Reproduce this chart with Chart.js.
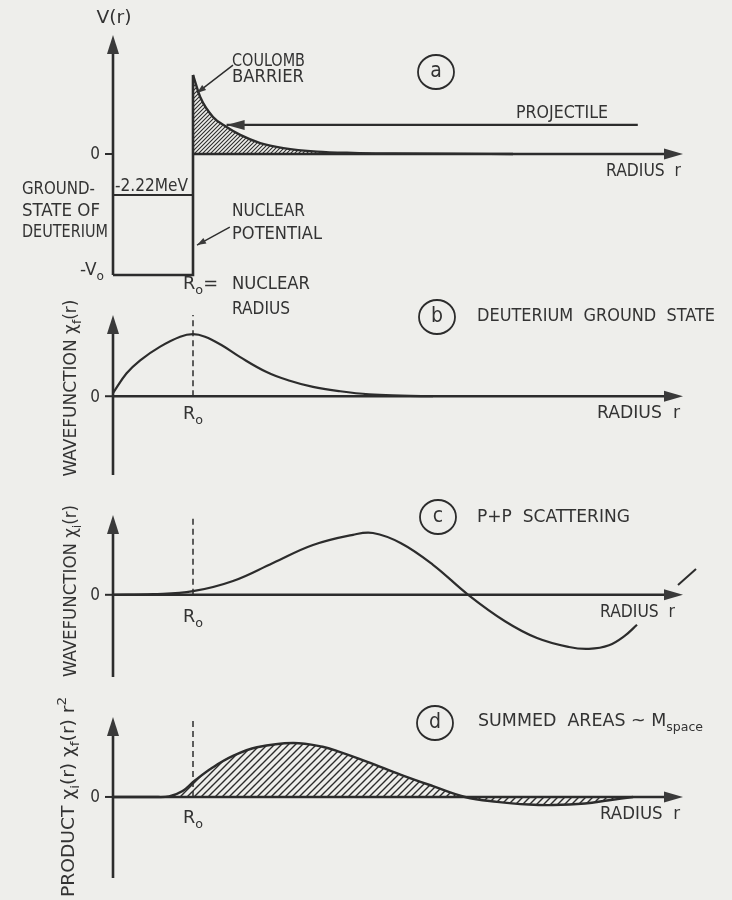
<!DOCTYPE html>
<html>
<head>
<meta charset="utf-8">
<script src="https://cdn.jsdelivr.net/npm/chart.js@4.4.0/dist/chart.umd.min.js"></script>
<style>
html, body { margin: 0; padding: 0; background: #eeeeeb; }
#page { position: relative; width: 732px; height: 900px; overflow: hidden; }
canvas { position: absolute; left: 0; }
</style>
</head>
<body>
<div id="page">
  <canvas id="chartA" width="732" height="330" style="top:0px"></canvas>
  <canvas id="chartB" width="732" height="200" style="top:290px"></canvas>
  <canvas id="chartC" width="732" height="200" style="top:490px"></canvas>
  <canvas id="chartD" width="732" height="210" style="top:690px"></canvas>
</div>
<script>
// radius r in units of the nuclear radius R0 (R0 = 1)
// (a) potential, schematic MeV
const wellR = [0, 1, 1]
const wellV = [-6.54, -6.54, 4.27]
const groundR = [0, 1]
const groundV = [-2.22, -2.22]
const coulombR = [1, 1.09, 1.25, 1.42, 1.59, 1.84, 2.13, 2.55, 3.0, 3.5, 4.2, 5.0]
const coulombV = [4.27, 3.08, 2.0, 1.46, 1.03, 0.59, 0.32, 0.13, 0.06, 0.03, 0.01, 0]
const projectileR = [1.42, 6.56]
const projectileV = [1.57, 1.57]

// (b) deuterium ground state wavefunction chi_f
const chiFR = [0, 0.17, 0.34, 0.59, 0.84, 1.0, 1.15, 1.35, 1.59, 1.92, 2.21, 2.5, 2.84, 3.2, 3.6, 4.0]
const chiF = [0.05, 0.37, 0.58, 0.8, 0.96, 1.0, 0.96, 0.83, 0.63, 0.39, 0.25, 0.15, 0.08, 0.03, 0.01, 0]

// (c) p+p scattering wavefunction chi_i
const chiIR = [0, 0.5, 1.0, 1.5, 2.0, 2.5, 3.0, 3.25, 3.6, 4.0, 4.44, 4.9, 5.3, 5.7, 5.95, 6.2, 6.4, 6.55]
const chiI = [0, 0.01, 0.06, 0.23, 0.53, 0.83, 1.0, 1.03, 0.86, 0.5, 0, -0.44, -0.72, -0.87, -0.9, -0.84, -0.68, -0.5]

// (d) product chi_i chi_f r^2
const prodR = [0, 0.5, 0.7, 0.87, 1.02, 1.25, 1.5, 1.8, 2.25, 2.62, 2.84, 3.18, 3.6, 4.0, 4.4, 4.8, 5.2, 5.5, 5.9, 6.2, 6.5]
const prod = [0, 0, 0.01, 0.11, 0.3, 0.55, 0.76, 0.92, 1.0, 0.93, 0.83, 0.65, 0.41, 0.2, 0, -0.09, -0.14, -0.15, -0.12, -0.06, 0]

const R0 = [1, 1]
const R_MAX = 7.125

const ink = '#2c2c2c'
const textInk = '#333333'
const FONT = '"DejaVu Sans Condensed", "DejaVu Sans", sans-serif'

const line = (xs, ys) => xs.map((x, i) => ({ x, y: ys[i] }))

function hatch(gap, lw) {
  const c = document.createElement('canvas')
  c.width = gap; c.height = gap
  const g = c.getContext('2d')
  g.strokeStyle = ink
  g.lineWidth = lw
  g.beginPath()
  g.moveTo(0, gap); g.lineTo(gap, 0)
  g.moveTo(-1, 1); g.lineTo(1, -1)
  g.moveTo(gap - 1, gap + 1); g.lineTo(gap + 1, gap - 1)
  g.stroke()
  return g.createPattern(c, 'repeat')
}

// mini markup: _{sub} ^{sup}
function parse(str) {
  const out = []
  const re = /([_^])\{([^}]*)\}/g
  let last = 0, m
  while ((m = re.exec(str))) {
    if (m.index > last) out.push({ t: str.slice(last, m.index) })
    out.push({ t: m[2], s: m[1] === '_' ? 'sub' : 'sup' })
    last = re.lastIndex
  }
  if (last < str.length) out.push({ t: str.slice(last) })
  return out
}

function rich(ctx, str, x, y, size, width, align, rot) {
  const parts = parse(str)
  ctx.save()
  ctx.translate(x, y)
  if (rot) ctx.rotate(rot)
  let total = 0
  for (const p of parts) {
    p.size = p.s ? size * 0.72 : size
    ctx.font = p.size + 'px ' + FONT
    p.w = ctx.measureText(p.t).width
    total += p.w
  }
  if (width) ctx.scale(width / total, 1)
  let cx = align === 'center' ? -total / 2 : align === 'right' ? -total : 0
  ctx.fillStyle = textInk
  ctx.textBaseline = 'middle'
  ctx.textAlign = 'left'
  for (const p of parts) {
    ctx.font = p.size + 'px ' + FONT
    const dy = p.s === 'sub' ? size * 0.32 : p.s === 'sup' ? -size * 0.42 : 0
    ctx.fillText(p.t, cx, dy)
    cx += p.w
  }
  ctx.restore()
}

function arrow(ctx, x, y, ang, len, half) {
  ctx.save()
  ctx.translate(x, y)
  ctx.rotate(ang)
  ctx.beginPath()
  ctx.moveTo(0, 0)
  ctx.lineTo(-len, -half)
  ctx.lineTo(-len, half)
  ctx.closePath()
  ctx.fillStyle = '#3a3a3a'
  ctx.fill()
  ctx.restore()
}

function seg(ctx, x1, y1, x2, y2) {
  ctx.beginPath()
  ctx.moveTo(x1, y1)
  ctx.lineTo(x2, y2)
  ctx.stroke()
}

const curveStyle = { showLine: true, pointRadius: 0, borderColor: ink, clip: false, fill: false }
const dashStyle = { ...curveStyle, borderWidth: 1.5, borderDash: [6, 4] }

const panels = [
  {
    id: 'chartA', top: 0, areaTop: 35, areaBottom: 275, yMin: -6.54, yMax: 6.43, axisFrom: 1,
    datasets: [
      { ...curveStyle, data: line(wellR, wellV), borderWidth: 2.6, tension: 0 },
      { ...curveStyle, data: line(groundR, groundV), borderWidth: 2 },
      { ...curveStyle, data: line(coulombR, coulombV), borderWidth: 2.4, cubicInterpolationMode: 'monotone',
        fill: 'origin', backgroundColor: hatch(4, 1.1) },
      { ...curveStyle, data: line(projectileR, projectileV), borderWidth: 2.2 }
    ],
    leftArrowOn: 3,
    leaders: [[1.5, 4.8, 1.05, 3.3], [1.46, -3.95, 1.05, -4.92]],
    circle: [436, 72, 'a'],
    labels: [
      ['V(r)', 114, 19, 35, 'center'],
      ['GROUND-', 22, 190, 73], ['STATE OF', 22, 212, 78], ['DEUTERIUM', 22, 233, 86],
      ['-2.22MeV', 115, 187, 73],
      ['-V_{o}', 104, 271, 24, 'right'],
      ['COULOMB', 232, 62, 73], ['BARRIER', 232, 78, 72],
      ['NUCLEAR', 232, 212, 73], ['POTENTIAL', 232, 235, 90],
      ['R_{o}=', 183, 285, 35], ['NUCLEAR', 232, 285, 78], ['RADIUS', 232, 310, 58],
      ['PROJECTILE', 516, 114, 92],
      ['RADIUS  r', 606, 172, 75]
    ]
  },
  {
    id: 'chartB', top: 290, areaTop: 315, areaBottom: 475, yMin: -1.27, yMax: 1.31, axisFrom: 0,
    datasets: [
      { ...curveStyle, data: line(chiFR, chiF), borderWidth: 2.2, tension: 0.4 },
      { ...dashStyle, data: line(R0, [0, 1.31]) }
    ],
    circle: [437, 317, 'b'],
    labels: [
      ['DEUTERIUM  GROUND  STATE', 477, 317, 238],
      ['R_{o}', 193, 415, 20, 'center'],
      ['RADIUS  r', 597, 414, 83],
      ['WAVEFUNCTION χ_{f}(r)', 72, 388, 177, 'center', -Math.PI / 2]
    ]
  },
  {
    id: 'chartC', top: 490, areaTop: 515, areaBottom: 677, yMin: -1.37, yMax: 1.33, axisFrom: 0,
    datasets: [
      { ...curveStyle, data: line(chiIR, chiI), borderWidth: 2.2, tension: 0.4 },
      { ...dashStyle, data: line(R0, [0, 1.33]) }
    ],
    circle: [438, 517, 'c'],
    slash: [678, 585, 696, 569],
    labels: [
      ['P+P  SCATTERING', 477, 518, 153],
      ['R_{o}', 193, 618, 20, 'center'],
      ['RADIUS  r', 600, 613, 75],
      ['WAVEFUNCTION χ_{i}(r)', 72, 591, 172, 'center', -Math.PI / 2]
    ]
  },
  {
    id: 'chartD', top: 690, areaTop: 717, areaBottom: 878, yMin: -1.5, yMax: 1.48, axisFrom: 0,
    datasets: [
      { ...curveStyle, data: line(prodR, prod), borderWidth: 2.4, tension: 0.4,
        fill: 'origin', backgroundColor: hatch(7, 1.4) },
      { ...dashStyle, data: line(R0, [0, 1.48]) }
    ],
    circle: [435, 723, 'd'],
    labels: [
      ['SUMMED  AREAS ~ M_{space}', 478, 722, 225],
      ['R_{o}', 193, 819, 20, 'center'],
      ['RADIUS  r', 600, 815, 80],
      ['PRODUCT χ_{i}(r) χ_{f}(r) r^{2}', 70, 797, 200, 'center', -Math.PI / 2]
    ]
  }
]

function decor(p) {
  return {
    id: 'decor' + p.id,
    beforeDatasetsDraw(chart) {
      const ctx = chart.ctx
      const xs = chart.scales.x, ys = chart.scales.y
      const area = chart.chartArea
      const x0 = xs.getPixelForValue(0), y0 = ys.getPixelForValue(0)
      ctx.save()
      ctx.strokeStyle = ink
      ctx.lineWidth = 2.6
      seg(ctx, x0, area.bottom, x0, area.top + 12)
      arrow(ctx, x0, area.top, -Math.PI / 2, 19, 6)
      seg(ctx, xs.getPixelForValue(p.axisFrom), y0, area.right - 12, y0)
      arrow(ctx, area.right, y0, 0, 19, 5.5)
      ctx.lineWidth = 2
      seg(ctx, x0 - 8, y0, x0, y0)
      ctx.restore()
      rich(ctx, '0', x0 - 13, y0 + 1, 17, 0, 'right')
    },
    afterDatasetsDraw(chart) {
      const ctx = chart.ctx
      const xs = chart.scales.x, ys = chart.scales.y
      ctx.save()
      if (p.leftArrowOn !== undefined) {
        const pt = chart.getDatasetMeta(p.leftArrowOn).data[0]
        arrow(ctx, pt.x, pt.y, Math.PI, 18, 5)
      }
      ctx.strokeStyle = ink
      ctx.lineWidth = 1.4
      for (const [r1, v1, r2, v2] of p.leaders || []) {
        const ax = xs.getPixelForValue(r1), ay = ys.getPixelForValue(v1)
        const bx = xs.getPixelForValue(r2), by = ys.getPixelForValue(v2)
        seg(ctx, ax, ay, bx, by)
        arrow(ctx, bx, by, Math.atan2(by - ay, bx - ax), 9, 3.2)
      }
      if (p.slash) {
        ctx.lineWidth = 2
        seg(ctx, p.slash[0], p.slash[1] - p.top, p.slash[2], p.slash[3] - p.top)
      }
      const [cx, cy, letter] = p.circle
      ctx.lineWidth = 1.8
      ctx.beginPath()
      ctx.ellipse(cx, cy - p.top, 18, 17, 0, 0, Math.PI * 2)
      ctx.stroke()
      ctx.restore()
      rich(ctx, letter, cx, cy - p.top, 21, 0, 'center')
      for (const [t, x, y, w, align, rot] of p.labels) {
        rich(ctx, t, x, y - p.top, 17, w, align || 'left', rot)
      }
    }
  }
}

for (const p of panels) {
  const canvas = document.getElementById(p.id)
  new Chart(canvas, {
    type: 'scatter',
    data: { datasets: p.datasets },
    options: {
      responsive: false,
      animation: false,
      devicePixelRatio: 1,
      events: [],
      layout: {
        padding: { left: 113, right: 732 - 683, top: p.areaTop - p.top, bottom: canvas.height - (p.areaBottom - p.top) }
      },
      scales: {
        x: { type: 'linear', display: false, min: 0, max: R_MAX },
        y: { type: 'linear', display: false, min: p.yMin, max: p.yMax }
      },
      plugins: { legend: { display: false }, tooltip: { enabled: false } }
    },
    plugins: [decor(p)]
  })
}
</script>
</body>
</html>
